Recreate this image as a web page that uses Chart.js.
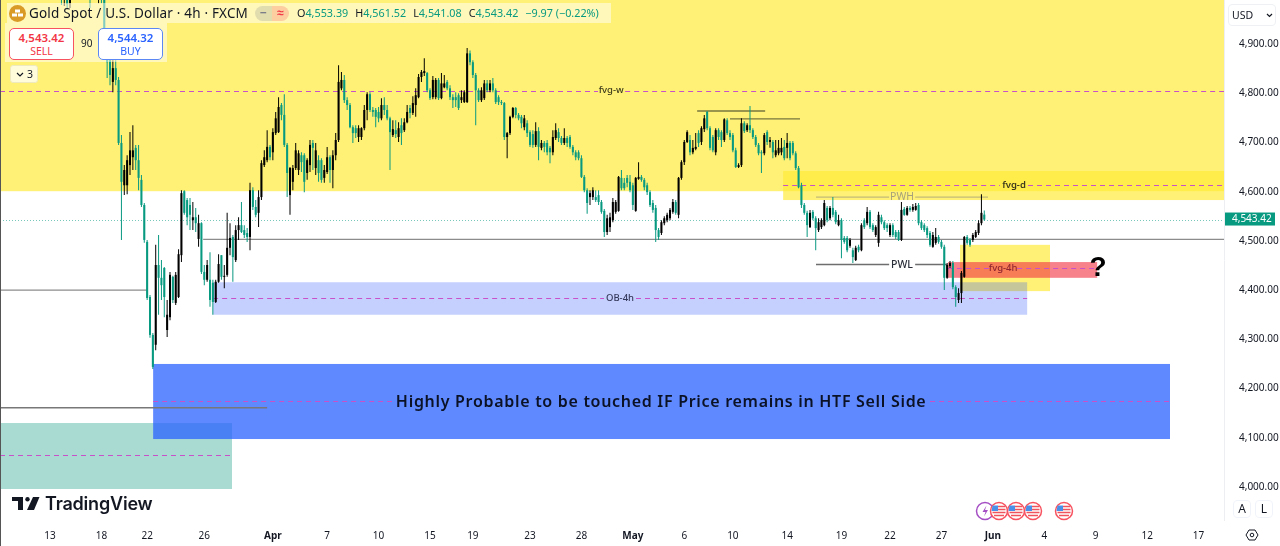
<!DOCTYPE html>
<html>
<head>
<meta charset="utf-8">
<title>Gold Spot / U.S. Dollar 4h</title>
<script src="https://cdn.jsdelivr.net/npm/chart.js@4/dist/chart.umd.js"></script>
<style>
    html, body { margin: 0; padding: 0; background: #fff; }
    body { width: 1280px; height: 546px; position: relative; overflow: hidden; font-family: "Noto Sans", sans-serif; color: #131722; }
    canvas { position: absolute; left: 0; top: 0; }
    .abs { position: absolute; white-space: nowrap; }
    #edge { left: 0; top: 0; width: 1px; height: 546px; background: #555; }
    .strip { background: rgba(255, 255, 255, 0.5); }
    #title { left: 29px; top: 3px; font-size: 13.5px; line-height: 20px; letter-spacing: 0.18px; }
    #ohlc { left: 297px; top: 4px; font-size: 10.8px; line-height: 18px; color: #089981; }
    #ohlc b { font-weight: 400; color: #131722; }
    #ohlc span { margin-right: 7px; }
    .pill { top: 6px; width: 17px; height: 15px; line-height: 14px; text-align: center; font-size: 12px; font-weight: 700; }
    .trade { top: 28px; width: 63px; height: 29px; background: #fff; border-radius: 5px; text-align: center; font-size: 10.5px; line-height: 13px; padding-top: 1px; }
    .trade b { display: block; font-size: 11.5px; line-height: 15px; font-weight: 600; }
    #sell { left: 9px; border: 1px solid #f7525f; color: #f23645; }
    #buy { left: 98px; border: 1px solid #5b87f5; color: #2962ff; }
    #spread { left: 81px; top: 36px; font-size: 10px; line-height: 14px; }
    #chip { left: 10px; top: 65px; width: 26px; height: 16px; border: 1px solid #efe9c0; border-radius: 3px; background: rgba(255, 255, 255, 0.75); font-size: 10.5px; line-height: 16px; }
    #usd { left: 1228px; top: 4px; width: 46px; height: 20px; border: 1px solid #eef0f3; border-radius: 4px; font-size: 10.5px; line-height: 20px; }
    .scaleBtn { top: 500px; width: 16px; height: 16px; border: 1px solid #f0f3fa; border-radius: 4px; text-align: center; font-size: 12px; line-height: 16px; }
    #brand { left: 45px; top: 490px; font-family: Inter, sans-serif; font-size: 18px; font-weight: 600; line-height: 28px; letter-spacing: -0.2px; color: #131722; }
</style>
</head>
<body>
<canvas id="chart" width="1280" height="546"></canvas>
<div class="abs" id="edge"></div>

<!-- Symbol legend -->
<div class="abs strip" style="left:7px;top:3px;width:604px;height:20px"></div>
<div class="abs strip" style="left:5px;top:23px;width:162px;height:39px"></div>
<svg class="abs" style="left:9px;top:5px" width="17" height="17" viewBox="0 0 17 17">
    <circle cx="8.5" cy="8.5" r="8.5" fill="#d99a26"/>
    <rect x="6" y="4.5" width="5" height="3" fill="#fff"/>
    <rect x="3" y="8.5" width="5" height="3" fill="#fff"/>
    <rect x="9" y="8.5" width="5" height="3" fill="#fff"/>
</svg>
<div class="abs" id="title">Gold Spot / U.S. Dollar · 4h · FXCM</div>
<div class="abs pill" style="left:255px;background:rgba(120,123,134,.22);border-radius:8px 0 0 8px;color:#787b86">−</div>
<div class="abs pill" style="left:272px;background:rgba(242,54,69,.22);border-radius:0 8px 8px 0;color:#f23645">≈</div>
<div class="abs" id="ohlc"><span><b>O</b>4,553.39</span><span><b>H</b>4,561.52</span><span><b>L</b>4,541.08</span><span><b>C</b>4,543.42</span>−9.97 (−0.22%)</div>
<div class="abs trade" id="sell"><b>4,543.42</b>SELL</div>
<div class="abs" id="spread">90</div>
<div class="abs trade" id="buy"><b>4,544.32</b>BUY</div>
<div class="abs" id="chip">
    <svg style="position:absolute;left:5px;top:6px" width="8" height="5" viewBox="0 0 8 5"><path d="M1 1l3 3 3-3" fill="none" stroke="#131722" stroke-width="1.2"/></svg>
    <span style="position:absolute;left:16px">3</span>
</div>

<!-- Price scale controls -->
<div class="abs" id="usd">
    <span style="position:absolute;left:3px">USD</span>
    <svg style="position:absolute;left:37px;top:8px" width="7" height="5" viewBox="0 0 7 5"><path d="M1 1l2.500 2.500 2.500-2.500" fill="none" stroke="#131722" stroke-width="1.2"/></svg>
</div>
<div class="abs scaleBtn" style="left:1233px">A</div>
<div class="abs scaleBtn" style="left:1255px">L</div>
<svg class="abs" style="left:1245px;top:528px" width="14" height="14" viewBox="0 0 14 14">
    <path d="M1 7l3-5h6l3 5-3 5H4z" fill="none" stroke="#131722" stroke-width="1"/>
    <circle cx="7" cy="7" r="1.800" fill="none" stroke="#131722" stroke-width="1"/>
</svg>

<!-- Brand mark -->
<svg class="abs" style="left:12px;top:497px" width="28" height="14" viewBox="0 0 28 14">
    <path d="M0 0h11v13H6V4H0z" fill="#131722"/>
    <circle cx="15.500" cy="2.200" r="2.200" fill="#131722"/>
    <path d="M21 0h6.500l-5.500 13h-7z" fill="#131722"/>
</svg>
<div class="abs" id="brand">TradingView</div>

<!-- Economic events row -->
<svg class="abs" style="left:975px;top:500px" width="100" height="22" viewBox="0 0 100 22">
    <defs>
        <g id="usEvent">
            <circle r="8.500" fill="#fff" stroke="#f7525f" stroke-width="1.500"/>
            <path d="M-6.500-5.500h5.500v5.500h-6.500z" fill="#4a90e8"/>
            <path d="M-1-4.500h7M-1-1.500h7.500M-6.500 1.500h13M-5 4.500h10" stroke="#f0535e" stroke-width="1.600"/>
        </g>
    </defs>
    <circle cx="10" cy="11" r="8.500" fill="#fff" stroke="#a54fc4" stroke-width="1.500"/>
    <path d="M11.500 5.500l-4 6.500h3l-1.500 4.500 4-6.500h-3z" fill="#a54fc4"/>
    <use href="#usEvent" x="24" y="11"/>
    <use href="#usEvent" x="41" y="11"/>
    <use href="#usEvent" x="58" y="11"/>
    <use href="#usEvent" x="89" y="11"/>
</svg>

<script>
"use strict";

// 4h candles, oldest first. The first ones sit above the visible price range.
const opens = [
    5050, 5005, 5034, 4983, 5050, 5040, 5070, 5040, 5090, 5030,
    5050, 5019, 5050, 5005, 5040, 4999, 4928, 4867, 4823, 4851,
    4827, 4699, 4613, 4613, 4654, 4670, 4689, 4664, 4624, 4573,
    4498, 4386, 4309, 4289, 4451, 4425, 4445, 4319, 4345, 4427,
    4374, 4386, 4471, 4601, 4583, 4573, 4542, 4548, 4504, 4536,
    4437, 4421, 4421, 4415, 4376, 4417, 4471, 4427, 4431, 4486,
    4508, 4461, 4522, 4532, 4522, 4516, 4508, 4603, 4569, 4557,
    4589, 4654, 4664, 4691, 4680, 4719, 4721, 4776, 4756, 4695,
    4593, 4620, 4648, 4644, 4674, 4674, 4638, 4654, 4699, 4648,
    4664, 4664, 4628, 4640, 4670, 4644, 4674, 4705, 4810, 4827,
    4786, 4776, 4731, 4729, 4711, 4711, 4729, 4766, 4798, 4766,
    4766, 4762, 4749, 4776, 4766, 4749, 4715, 4725, 4711, 4735,
    4725, 4741, 4770, 4760, 4776, 4792, 4833, 4841, 4841, 4806,
    4792, 4792, 4827, 4790, 4812, 4823, 4810, 4792, 4792, 4796,
    4786, 4782, 4782, 4881, 4863, 4837, 4806, 4786, 4790, 4820,
    4806, 4820, 4806, 4792, 4782, 4780, 4711, 4719, 4752, 4770,
    4756, 4752, 4731, 4739, 4721, 4717, 4695, 4723, 4689, 4699,
    4699, 4689, 4680, 4709, 4721, 4709, 4699, 4709, 4711, 4691,
    4680, 4680, 4668, 4630, 4603, 4589, 4589, 4589, 4593, 4579,
    4561, 4518, 4528, 4542, 4559, 4561, 4628, 4618, 4628,
    4620, 4613, 4561, 4626, 4630, 4624, 4613, 4599, 4577, 4567,
    4522, 4516, 4536, 4542, 4546, 4559, 4579, 4553, 4628, 4660,
    4701, 4705, 4680, 4687, 4719, 4701, 4727, 4762, 4729, 4711,
    4680, 4725, 4721, 4705, 4745, 4719, 4715, 4684, 4650, 4654,
    4739, 4725, 4735, 4725, 4711, 4695, 4680, 4678, 4721, 4701,
    4701, 4674, 4678, 4680, 4691, 4689, 4699, 4699, 4678,
    4648, 4613, 4573, 4557, 4528, 4559, 4546, 4522, 4528, 4532,
    4567, 4546, 4567, 4559, 4532, 4542, 4506, 4506, 4490, 4481,
    4461, 4488, 4481, 4542, 4536, 4559, 4532, 4512, 4496, 4548,
    4538, 4532, 4512, 4532, 4518, 4518, 4502, 4565, 4553,
    4567, 4563, 4563, 4573, 4538, 4532, 4526, 4516, 4488, 4496,
    4508, 4498, 4488, 4425, 4449, 4455, 4406, 4380, 4394, 4427,
    4508, 4502, 4502, 4508, 4516, 4536, 4553.39
];
const highs = [
    5070, 5060, 5040, 5050, 5060, 5080, 5080, 5090, 5100, 5080,
    5074, 5070, 5060, 5060, 5050, 5019, 4932, 4877, 4867, 4867,
    4833, 4715, 4654, 4674, 4721, 4735, 4695, 4695, 4634, 4577,
    4502, 4390, 4313, 4492, 4512, 4461, 4447, 4380, 4437, 4429,
    4437, 4483, 4603, 4603, 4587, 4587, 4579, 4567, 4553, 4538,
    4451, 4461, 4477, 4421, 4421, 4473, 4471, 4451, 4557, 4536,
    4512, 4532, 4548, 4579, 4532, 4526, 4618, 4609, 4583, 4603,
    4664, 4684, 4725, 4695, 4729, 4762, 4792, 4780, 4798, 4699,
    4650, 4654, 4699, 4684, 4680, 4678, 4668, 4705, 4705, 4699,
    4674, 4668, 4654, 4691, 4674, 4684, 4719, 4857, 4843, 4837,
    4792, 4780, 4735, 4735, 4735, 4731, 4776, 4802, 4802, 4772,
    4770, 4772, 4790, 4792, 4776, 4752, 4745, 4745, 4741, 4749,
    4749, 4776, 4776, 4794, 4810, 4839, 4847, 4871, 4843, 4810,
    4835, 4831, 4831, 4841, 4837, 4827, 4816, 4798, 4802, 4800,
    4806, 4806, 4892, 4887, 4867, 4841, 4810, 4812, 4827, 4827,
    4827, 4831, 4810, 4796, 4786, 4782, 4721, 4754, 4772, 4772,
    4760, 4756, 4756, 4745, 4725, 4725, 4741, 4731, 4705, 4703,
    4705, 4693, 4725, 4739, 4729, 4713, 4729, 4713, 4715, 4695,
    4684, 4684, 4674, 4634, 4607, 4603, 4609, 4603, 4603, 4583,
    4565, 4553, 4557, 4587, 4583, 4632, 4644, 4628, 4634,
    4634, 4618, 4630, 4660, 4634, 4628, 4618, 4603, 4583, 4573,
    4526, 4542, 4550, 4557, 4567, 4585, 4583, 4630, 4664, 4705,
    4725, 4715, 4705, 4719, 4725, 4733, 4756, 4764, 4733, 4715,
    4729, 4729, 4725, 4749, 4749, 4725, 4719, 4689, 4658, 4749,
    4743, 4739, 4774, 4729, 4715, 4699, 4684, 4719, 4725, 4711,
    4705, 4705, 4705, 4709, 4705, 4719, 4703, 4703, 4682,
    4652, 4618, 4577, 4561, 4563, 4563, 4550, 4546, 4546, 4583,
    4571, 4571, 4589, 4563, 4553, 4546, 4510, 4510, 4506, 4486,
    4490, 4492, 4536, 4546, 4569, 4563, 4536, 4532, 4559, 4553,
    4542, 4536, 4536, 4536, 4522, 4522, 4579, 4569, 4571,
    4571, 4575, 4577, 4577, 4542, 4536, 4530, 4520, 4518, 4526,
    4512, 4502, 4492, 4455, 4459, 4459, 4410, 4404, 4439, 4510,
    4512, 4506, 4516, 4522, 4542, 4595, 4561.52
];
const lows = [
    4979, 4977, 4973, 4973, 4999, 5019, 5009, 5013, 5019, 4999,
    4973, 4999, 4995, 4983, 4983, 4924, 4831, 4816, 4802, 4816,
    4695, 4502, 4593, 4595, 4634, 4644, 4644, 4603, 4569, 4496,
    4380, 4303, 4240, 4278, 4350, 4380, 4345, 4305, 4339, 4374,
    4370, 4384, 4457, 4553, 4532, 4522, 4522, 4518, 4488, 4433,
    4410, 4417, 4366, 4350, 4374, 4415, 4421, 4404, 4427, 4471,
    4417, 4457, 4502, 4516, 4506, 4498, 4481, 4563, 4548, 4528,
    4583, 4650, 4660, 4664, 4664, 4715, 4719, 4745, 4691, 4589,
    4553, 4603, 4644, 4634, 4640, 4599, 4624, 4640, 4644, 4634,
    4620, 4618, 4618, 4636, 4618, 4607, 4664, 4701, 4806, 4780,
    4766, 4729, 4699, 4709, 4701, 4705, 4725, 4745, 4762, 4752,
    4731, 4741, 4745, 4756, 4745, 4644, 4711, 4709, 4701, 4695,
    4721, 4739, 4749, 4756, 4752, 4790, 4823, 4835, 4802, 4786,
    4788, 4788, 4786, 4788, 4810, 4806, 4786, 4770, 4772, 4766,
    4780, 4780, 4780, 4857, 4831, 4735, 4782, 4782, 4786, 4802,
    4802, 4802, 4778, 4776, 4776, 4705, 4668, 4715, 4749, 4749,
    4745, 4729, 4725, 4711, 4691, 4689, 4691, 4664, 4684, 4680,
    4674, 4658, 4674, 4705, 4701, 4695, 4695, 4691, 4687, 4674,
    4664, 4664, 4628, 4599, 4555, 4573, 4583, 4579, 4573, 4555,
    4508, 4512, 4518, 4538, 4555, 4559, 4603, 4603, 4609,
    4599, 4563, 4559, 4624, 4620, 4603, 4593, 4569, 4557, 4498,
    4502, 4512, 4532, 4538, 4542, 4555, 4553, 4546, 4624, 4654,
    4699, 4674, 4676, 4684, 4691, 4695, 4721, 4725, 4684, 4680,
    4674, 4705, 4691, 4701, 4715, 4705, 4680, 4648, 4648, 4650,
    4719, 4721, 4719, 4707, 4691, 4674, 4638, 4674, 4695, 4689,
    4668, 4670, 4674, 4674, 4664, 4668, 4664, 4674, 4644,
    4607, 4567, 4553, 4508, 4526, 4542, 4481, 4518, 4524, 4530,
    4538, 4542, 4548, 4534, 4530, 4465, 4494, 4477, 4486, 4455,
    4459, 4477, 4479, 4524, 4532, 4524, 4518, 4508, 4488, 4534,
    4522, 4518, 4508, 4508, 4504, 4500, 4500, 4551, 4551,
    4559, 4559, 4561, 4532, 4522, 4518, 4506, 4488, 4486, 4492,
    4494, 4484, 4400, 4423, 4445, 4402, 4366, 4374, 4374, 4425,
    4492, 4488, 4498, 4506, 4512, 4532, 4541.08
];
const closes = [
    5009, 5040, 4981, 5030, 5019, 5070, 5030, 5080, 5050, 5070,
    5009, 5060, 5013, 5050, 4999, 4928, 4863, 4837, 4851, 4827,
    4699, 4620, 4644, 4664, 4684, 4684, 4664, 4628, 4573, 4502,
    4384, 4309, 4244, 4451, 4425, 4410, 4386, 4350, 4431, 4380,
    4431, 4473, 4597, 4557, 4548, 4553, 4548, 4536, 4536, 4437,
    4421, 4451, 4380, 4376, 4417, 4453, 4427, 4429, 4486, 4506,
    4467, 4522, 4532, 4518, 4512, 4508, 4603, 4569, 4553, 4589,
    4658, 4670, 4691, 4670, 4721, 4749, 4772, 4756, 4695, 4638,
    4648, 4648, 4684, 4678, 4660, 4620, 4664, 4695, 4689, 4684,
    4638, 4624, 4644, 4670, 4644, 4674, 4705, 4823, 4827, 4786,
    4776, 4731, 4719, 4719, 4729, 4729, 4766, 4798, 4766, 4762,
    4752, 4749, 4776, 4766, 4749, 4721, 4727, 4717, 4729, 4719,
    4741, 4762, 4760, 4780, 4796, 4833, 4843, 4845, 4806, 4790,
    4827, 4827, 4790, 4820, 4820, 4810, 4792, 4786, 4786, 4770,
    4792, 4802, 4881, 4863, 4837, 4806, 4786, 4806, 4820, 4806,
    4820, 4806, 4782, 4782, 4780, 4711, 4719, 4752, 4770, 4756,
    4749, 4739, 4749, 4719, 4695, 4695, 4723, 4691, 4699, 4691,
    4680, 4680, 4711, 4725, 4709, 4699, 4709, 4699, 4691, 4680,
    4670, 4668, 4630, 4603, 4577, 4597, 4603, 4583, 4579, 4559,
    4518, 4546, 4548, 4579, 4579, 4630, 4607, 4607, 4618,
    4603, 4573, 4628, 4630, 4624, 4609, 4599, 4573, 4563, 4522,
    4508, 4538, 4546, 4553, 4563, 4579, 4557, 4628, 4660, 4701,
    4721, 4680, 4689, 4691, 4699, 4729, 4749, 4729, 4689, 4684,
    4725, 4711, 4705, 4747, 4719, 4711, 4684, 4650, 4654, 4739,
    4723, 4735, 4725, 4711, 4695, 4678, 4678, 4715, 4701, 4705,
    4680, 4684, 4689, 4689, 4668, 4699, 4668, 4678, 4648,
    4609, 4573, 4557, 4532, 4557, 4546, 4526, 4538, 4542, 4577,
    4542, 4567, 4553, 4538, 4542, 4502, 4498, 4481, 4502, 4467,
    4486, 4481, 4532, 4528, 4559, 4528, 4522, 4528, 4553, 4538,
    4526, 4526, 4532, 4512, 4508, 4502, 4563, 4553, 4567,
    4563, 4569, 4571, 4536, 4526, 4522, 4512, 4492, 4512, 4508,
    4498, 4488, 4425, 4451, 4455, 4406, 4386, 4394, 4435, 4508,
    4496, 4492, 4512, 4518, 4536, 4557, 4543.42
];

// Axis ticks: candle position and text for the time scale, round prices for the right one
const timeTickAt = [-4, 14, 30, 50, 74, 93, 111, 129, 144, 164, 182, 200, 218, 235, 254, 273, 290, 308, 326, 344, 362, 380, 398];
const timeTickText = ["13", "18", "22", "26", "Apr", "7", "10", "15", "19", "23", "28", "May", "6", "10", "14", "19", "22", "27", "Jun", "4", "9", "12", "17"];
const monthTicks = ["Apr", "May", "Jun"];
const priceTicks = [4000, 4100, 4200, 4300, 4400, 4500, 4600, 4700, 4800, 4900];

// Visible window of the chart
const firstSlot = -21.5;
const lastSlot = 406.9;
const priceFloor = 3933;
const priceCeiling = 4989.4;

// Zones: fvg-w, fvg-d, 4h yellow box, fvg-4h, OB-4h, lower green box, lower blue box
const zoneStart = [firstSlot, 252.6, 314.5, 310.3, 53.1, firstSlot, 32.1];
const zoneEnd = [lastSlot, lastSlot, 346, 362.5, 338, 59.7, 388];
const zoneTop = [priceCeiling, 4642, 4492, 4457, 4416, 4130, 4250];
const zoneBottom = [4601, 4583, 4398, 4425, 4350, 3996, 4097.5];
const zoneFill = [
    "rgba(255, 235, 59, 0.7)", "rgba(255, 235, 59, 0.7)", "rgba(255, 235, 59, 0.7)",
    "rgba(242, 54, 69, 0.62)", "rgba(41, 82, 250, 0.27)",
    "rgba(8, 153, 129, 0.35)", "rgba(41, 98, 255, 0.75)"
];

// Dashed mid lines of the zones, broken where their text sits
const midPrice = [4805, 4805, 4613, 4613, 4445, 4445, 4384, 4384, 4175, 4175, 4065];
const midStart = [firstSlot, 197.3, 252.6, 338.3, 310.3, 334.5, 53.1, 201.1, 32.1, 304, firstSlot];
const midEnd = [187.8, lastSlot, 328.5, lastSlot, 325, 362.5, 189.9, 338, 115.7, 388, 59.7];

// Solid levels, gray long ones first, then the two highs and the PWH / PWL lines
const levelPrice = [4503, 4400, 4161, 4764, 4748, 4589, 4589, 4452, 4452];
const levelStart = [49.6, firstSlot, firstSlot, 222.5, 234, 264.1, 298.8, 264.1, 298.8];
const levelEnd = [lastSlot, 30, 72, 246.3, 258.5, 289.7, 324.3, 289.7, 310];
const levelColor = ["#8c8c8c", "#8c8c8c", "#787878", "#77773f", "#77773f", "#c4bb78", "#c4bb78", "#6e6e6e", "#6e6e6e"];

// Text tied to the chart
const noteText = ["fvg-w", "fvg-d", "OB-4h", "fvg-4h", "PWH", "PWL"];
const noteSlot = [192.4, 333.4, 195.5, 329.6, 294.2, 294.2];
const notePrice = [4805, 4613, 4384, 4445, 4589, 4452];
const noteColor = ["#3d3a1c", "#3d3a1c", "#34385a", "#8f2530", "#a8a27a", "#2a2e39"];
const noteFont = ["500 9.5px 'Noto Sans'", "600 9.5px 'Noto Sans'", "500 9.5px 'Noto Sans'", "500 9.5px 'Noto Sans'", "10.5px 'Noto Sans'", "500 10.5px 'Noto Sans'"];

const bullColor = "#000000";
const bearColor = "#089981";
const lastClose = closes[closes.length - 1];

const candleColors = closes.map((c, i) => (c >= opens[i] ? bullColor : bearColor));

// Zones, dashed mid lines, levels and the last price line go under the candles
const underCandles = {
    id: "underCandles",
    beforeDatasetsDraw(chart) {
        const { ctx, chartArea, scales: { x, y } } = chart;
        ctx.save();
        ctx.beginPath();
        ctx.rect(chartArea.left, chartArea.top, chartArea.width, chartArea.height);
        ctx.clip();

        zoneFill.forEach((fill, i) => {
            const left = x.getPixelForValue(zoneStart[i]);
            const top = y.getPixelForValue(zoneTop[i]);
            ctx.fillStyle = fill;
            ctx.fillRect(left, top, x.getPixelForValue(zoneEnd[i]) - left, y.getPixelForValue(zoneBottom[i]) - top);
        });

        ctx.lineWidth = 1;
        ctx.strokeStyle = "rgb(200, 80, 200)";
        ctx.setLineDash([5, 4]);
        midPrice.forEach((price, i) => {
            const py = Math.round(y.getPixelForValue(price)) + 0.5;
            ctx.beginPath();
            ctx.moveTo(x.getPixelForValue(midStart[i]), py);
            ctx.lineTo(x.getPixelForValue(midEnd[i]), py);
            ctx.stroke();
        });

        ctx.setLineDash([]);
        ctx.lineWidth = 1.4;
        levelPrice.forEach((price, i) => {
            const py = y.getPixelForValue(price);
            ctx.strokeStyle = levelColor[i];
            ctx.beginPath();
            ctx.moveTo(x.getPixelForValue(levelStart[i]), py);
            ctx.lineTo(x.getPixelForValue(levelEnd[i]), py);
            ctx.stroke();
        });

        const lastY = Math.round(y.getPixelForValue(lastClose)) + 0.5;
        ctx.lineWidth = 1;
        ctx.strokeStyle = "rgba(8, 153, 129, 0.55)";
        ctx.setLineDash([1, 2]);
        ctx.beginPath();
        ctx.moveTo(chartArea.left, lastY);
        ctx.lineTo(chartArea.right, lastY);
        ctx.stroke();
        ctx.restore();
    }
};

// Notes and the last price tag go on top
const overCandles = {
    id: "overCandles",
    afterDatasetsDraw(chart) {
        const { ctx, chartArea, scales: { x, y } } = chart;
        ctx.save();
        ctx.textAlign = "center";
        ctx.textBaseline = "middle";

        noteText.forEach((text, i) => {
            ctx.font = noteFont[i];
            ctx.fillStyle = noteColor[i];
            ctx.fillText(text, x.getPixelForValue(noteSlot[i]), y.getPixelForValue(notePrice[i]));
        });

        ctx.font = "600 16px 'Noto Sans'";
        ctx.letterSpacing = "0.7px";
        ctx.fillStyle = "#0b1226";
        ctx.fillText("Highly Probable to be touched IF Price remains in HTF Sell Side", x.getPixelForValue(209.9), y.getPixelForValue(4172));
        ctx.letterSpacing = "0px";

        ctx.font = "800 28px 'Liberation Sans'";
        ctx.fillStyle = "#000";
        ctx.fillText("?", x.getPixelForValue(362.8), y.getPixelForValue(4445));

        const tagY = y.getPixelForValue(lastClose);
        ctx.fillStyle = bearColor;
        ctx.fillRect(chartArea.right + 1, tagY - 7, 50, 13);
        ctx.font = "10px 'Noto Sans'";
        ctx.fillStyle = "#fff";
        ctx.textAlign = "left";
        ctx.fillText(lastClose.toLocaleString("en-US", { minimumFractionDigits: 2 }), chartArea.right + 8, tagY);
        ctx.restore();
    }
};

// Bodies and wicks are two floating bar datasets on the same linear time scale
const config = {
    type: "bar",
    data: {
        datasets: [
            {
                label: "Body",
                data: closes.map((c, i) => ({ x: i, y: [opens[i], c] })),
                backgroundColor: candleColors,
                maxBarThickness: 2.3,
                barPercentage: 0.9,
                grouped: false,
                inflateAmount: 0,
                borderWidth: 0
            },
            {
                label: "Wick",
                data: highs.map((h, i) => ({ x: i, y: [lows[i], h] })),
                backgroundColor: candleColors,
                maxBarThickness: 1,
                barPercentage: 0.9,
                grouped: false,
                inflateAmount: 0,
                borderWidth: 0
            }
        ]
    },
    options: {
        responsive: false,
        animation: false,
        events: [],
        layout: { padding: 0 },
        plugins: {
            legend: { display: false },
            title: { display: false },
            tooltip: { enabled: false }
        },
        scales: {
            x: {
                type: "linear",
                min: firstSlot,
                max: lastSlot,
                offset: false,
                grid: { display: false, offset: false },
                border: { display: false },
                afterBuildTicks: (scale) => {
                    scale.ticks = timeTickAt.map((value) => ({ value }));
                },
                afterFit: (scale) => {
                    scale.height = 26;
                    scale.paddingLeft = 0;
                    scale.paddingRight = 0;
                },
                ticks: {
                    autoSkip: false,
                    maxRotation: 0,
                    padding: 2,
                    color: "#131722",
                    font: (ctx) => {
                        const text = timeTickText[timeTickAt.indexOf(ctx.tick ? ctx.tick.value : NaN)];
                        return { family: "'Noto Sans'", size: 10, weight: monthTicks.includes(text) ? "700" : "400" };
                    },
                    callback: (value) => timeTickText[timeTickAt.indexOf(value)]
                }
            },
            y: {
                position: "right",
                min: priceFloor,
                max: priceCeiling,
                grid: { display: false },
                border: { color: "#eceef2" },
                afterBuildTicks: (scale) => {
                    scale.ticks = priceTicks.map((value) => ({ value }));
                },
                afterFit: (scale) => {
                    scale.width = 56;
                    scale.paddingTop = 0;
                    scale.paddingBottom = 0;
                },
                ticks: {
                    autoSkip: false,
                    padding: 7,
                    color: "#131722",
                    font: { family: "'Noto Sans'", size: 10 },
                    callback: (value) => value.toLocaleString("en-US", { minimumFractionDigits: 2 })
                }
            }
        }
    },
    plugins: [underCandles, overCandles]
};

new Chart(document.getElementById("chart").getContext("2d"), config);
</script>
</body>
</html>
